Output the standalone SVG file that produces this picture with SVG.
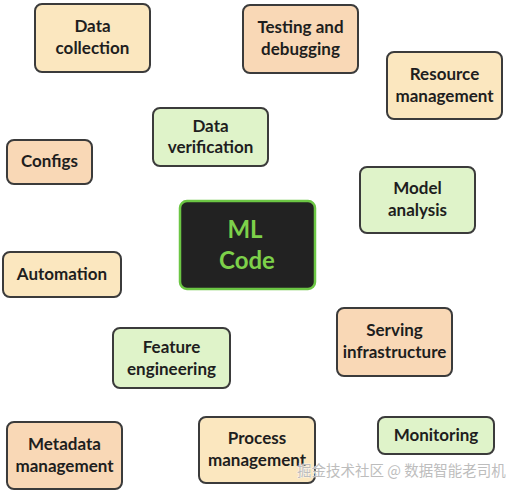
<svg xmlns="http://www.w3.org/2000/svg" width="506" height="494" viewBox="0 0 506 494">
<style>
.box{stroke:#3b3b3b;stroke-width:2}
.o{fill:#f9d8b6}
.y{fill:#fbe7bf}
.g{fill:#dff3c9}
text{font-family:Lato,"Noto Sans","Liberation Sans",sans-serif;font-weight:bold;font-size:17px;fill:#1e1e1e;text-anchor:middle}
.ml{font-size:24px;fill:#7dd14a}
.wm{font-family:"Noto Sans CJK SC",sans-serif;font-weight:normal;font-size:14.5px;fill:#bdbdbd;text-anchor:start;stroke:#ffffff;stroke-width:0.6;paint-order:stroke}
</style>
<rect width="506" height="494" fill="#ffffff"/>
<g id="connectors"></g>
<g id="data-collection"><rect class="box y" x="35" y="4" width="115" height="68" rx="7"/><text x="92.5" y="32">Data</text><text x="92.5" y="54">collection</text></g>
<g id="testing"><rect class="box o" x="243" y="5" width="115" height="68" rx="7"/><text x="300.5" y="33">Testing and</text><text x="300.5" y="55">debugging</text></g>
<g id="resource"><rect class="box y" x="387" y="52" width="115" height="67" rx="7"/><text x="444.5" y="80">Resource</text><text x="444.5" y="102">management</text></g>
<g id="data-verification"><rect class="box g" x="153" y="108" width="115" height="58" rx="7"/><text x="210.5" y="132">Data</text><text x="210.5" y="153">verification</text></g>
<g id="configs"><rect class="box o" x="7" y="140" width="85" height="44" rx="7"/><text x="49.5" y="167">Configs</text></g>
<g id="model-analysis"><rect class="box g" x="360" y="167" width="115" height="66" rx="7"/><text x="417.5" y="194">Model</text><text x="417.5" y="216">analysis</text></g>
<g id="ml-code"><rect x="180" y="201" width="135" height="88" rx="7" fill="#222222" stroke="#6cc644" stroke-width="2.5"/><text class="ml" x="245" y="238">ML</text><text class="ml" x="247" y="269">Code</text></g>
<g id="automation"><rect class="box y" x="3" y="252" width="118" height="45" rx="7"/><text x="62" y="280">Automation</text></g>
<g id="feature-engineering"><rect class="box g" x="113" y="328" width="117" height="60" rx="7"/><text x="171.5" y="353">Feature</text><text x="171.5" y="375">engineering</text></g>
<g id="serving"><rect class="box o" x="337" y="308" width="115" height="68" rx="7"/><text x="394.5" y="336">Serving</text><text x="394.5" y="358">infrastructure</text></g>
<g id="metadata"><rect class="box o" x="7" y="422" width="115" height="67" rx="7"/><text x="64.5" y="450">Metadata</text><text x="64.5" y="472">management</text></g>
<g id="process"><rect class="box y" x="199" y="417" width="116" height="66" rx="7"/><text x="257" y="444">Process</text><text x="257" y="466">management</text></g>
<g id="monitoring"><rect class="box g" x="378" y="417" width="116" height="37" rx="7"/><text x="436" y="441">Monitoring</text></g>
<text class="wm" x="297" y="476">掘金技术社区 @ 数据智能老司机</text>
</svg>
